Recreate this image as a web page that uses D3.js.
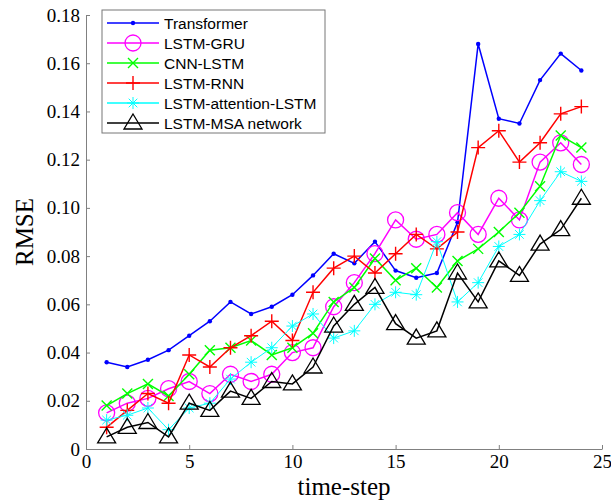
<!DOCTYPE html>
<html>
<head>
<meta charset="utf-8">
<script src="https://cdn.jsdelivr.net/npm/d3@7"></script>
<style>
  body { margin: 0; background: #fff; }
  svg { display: block; }
</style>
</head>
<body>
<div id="chart"></div>
<script>
(() => {

  let steps = d3.range(1, 25)

  let transformer = [0.036, 0.034, 0.037, 0.041, 0.047, 0.053, 0.061, 0.056, 0.059, 0.064, 0.072, 0.081,
    0.077, 0.086, 0.074, 0.071, 0.073, 0.094, 0.168, 0.137, 0.135, 0.153, 0.164, 0.157]
  let lstmGru = [0.015, 0.019, 0.021, 0.025, 0.028, 0.023, 0.031, 0.028, 0.031, 0.040, 0.042, 0.059,
    0.069, 0.081, 0.095, 0.087, 0.089, 0.098, 0.089, 0.104, 0.095, 0.119, 0.127, 0.118]
  let cnnLstm = [0.018, 0.023, 0.027, 0.022, 0.031, 0.041, 0.042, 0.045, 0.039, 0.042, 0.048, 0.061,
    0.067, 0.079, 0.070, 0.075, 0.067, 0.078, 0.083, 0.090, 0.098, 0.109, 0.130, 0.125]
  let lstmRnn = [0.009, 0.016, 0.023, 0.019, 0.039, 0.034, 0.042, 0.047, 0.053, 0.045, 0.065, 0.075,
    0.080, 0.073, 0.081, 0.089, 0.083, 0.090, 0.125, 0.132, 0.119, 0.127, 0.139, 0.142]
  let lstmAttn = [0.012, 0.014, 0.017, 0.008, 0.017, 0.019, 0.029, 0.036, 0.042, 0.051, 0.056, 0.046,
    0.049, 0.060, 0.065, 0.064, 0.086, 0.061, 0.069, 0.084, 0.089, 0.103, 0.115, 0.111]
  let lstmMsa = [0.005, 0.009, 0.011, 0.005, 0.019, 0.016, 0.024, 0.021, 0.028, 0.027, 0.034, 0.051,
    0.060, 0.067, 0.052, 0.046, 0.049, 0.073, 0.061, 0.078, 0.072, 0.085, 0.091, 0.104]

  let names = ["Transformer", "LSTM-GRU", "CNN-LSTM", "LSTM-RNN", "LSTM-attention-LSTM", "LSTM-MSA network"]
  let colors = ["#0000ff", "#ff00ff", "#00ff00", "#ff0000", "#00ffff", "#000000"]
  let markers = ["dot", "circle", "cross", "plus", "star", "triangle"]
  let values = [transformer, lstmGru, cnnLstm, lstmRnn, lstmAttn, lstmMsa]

  let xTicks = [0, 5, 10, 15, 20, 25]
  let yTicks = [0, 0.02, 0.04, 0.06, 0.08, 0.10, 0.12, 0.14, 0.16, 0.18]

  let svg = d3.select("#chart")
  .append("svg")
  .attr("width", 611)
  .attr("height", 504)

  let margin = {top: 15, right: 9, bottom: 55, left: 86}
  let width = 611 - margin.left - margin.right
  let height = 504 - margin.top - margin.bottom

  let x = d3.scaleLinear()
  .domain([0, 25])
  .range([margin.left, margin.left + width])

  let y = d3.scaleLinear()
  .domain([0, 0.18])
  .range([margin.top + height, margin.top])

  // axes
  let xAxis = svg.append("g")
  .attr("transform", "translate(0," + (margin.top + height) + ")")
  .call(d3.axisBottom(x).tickValues(xTicks).tickFormat(d3.format("d")).tickSizeInner(-4).tickSizeOuter(0).tickPadding(6))

  let yAxis = svg.append("g")
  .attr("transform", "translate(" + margin.left + ",0)")
  .call(d3.axisLeft(y).tickValues(yTicks).tickFormat(d => d === 0 ? "0" : d3.format(".2f")(d)).tickSizeInner(-4).tickSizeOuter(0).tickPadding(6))

  svg.selectAll(".domain, .tick line").attr("stroke", "#808080")
  svg.selectAll(".tick text")
  .attr("font-family", "'Liberation Serif', 'Times New Roman', serif")
  .attr("font-size", "19px")
  .attr("fill", "#000")

  // axis titles
  svg.append("text")
  .attr("x", x(12.5))
  .attr("y", 495)
  .text("time-step")
  .attr("font-family", "'Liberation Serif', 'Times New Roman', serif")
  .attr("font-size", "25px")
  .style("text-anchor", "middle")

  svg.append("text")
  .attr("transform", "translate(33," + y(0.09) + ") rotate(-90)")
  .text("RMSE")
  .attr("font-family", "'Liberation Serif', 'Times New Roman', serif")
  .attr("font-size", "25px")
  .style("text-anchor", "middle")

  // marker drawing
  let drawMarker = (sel, type, color) => {
    if (type === "dot") {
      sel.append("circle").attr("r", 2.2).attr("fill", color)
    } else if (type === "circle") {
      sel.append("circle").attr("r", 8).attr("fill", "none").attr("stroke", color).attr("stroke-width", 1.3)
    } else if (type === "cross") {
      sel.append("path").attr("d", "M-5,-5L5,5M-5,5L5,-5").attr("stroke", color).attr("stroke-width", 1.4).attr("fill", "none")
    } else if (type === "plus") {
      sel.append("path").attr("d", "M-7,0L7,0M0,-7L0,7").attr("stroke", color).attr("stroke-width", 1.4).attr("fill", "none")
    } else if (type === "star") {
      sel.append("path").attr("d", "M-6,0L6,0M0,-6L0,6M-4.3,-4.3L4.3,4.3M-4.3,4.3L4.3,-4.3").attr("stroke", color).attr("stroke-width", 1).attr("fill", "none")
    } else if (type === "triangle") {
      sel.append("path").attr("d", "M0,-9L9,6L-9,6Z").attr("stroke", color).attr("stroke-width", 1.3).attr("fill", "none")
    }
  }

  let line = d3.line()
  .x((d, i) => x(steps[i]))
  .y(d => y(d))

  values.forEach((vals, k) => {
    svg.append("path")
    .attr("d", line(vals))
    .attr("fill", "none")
    .attr("stroke", colors[k])
    .attr("stroke-width", k === 4 ? 1 : 1.5)

    let pts = svg.selectAll(".pt" + k)
    .data(vals)
    .enter()
    .append("g")
    .attr("transform", (d, i) => "translate(" + x(steps[i]) + "," + y(d) + ")")
    pts.each(function() { drawMarker(d3.select(this), markers[k], colors[k]) })
  })

  // legend
  let legend = svg.append("g")
  legend.append("rect")
  .attr("x", 102)
  .attr("y", 10)
  .attr("width", 223)
  .attr("height", 123)
  .attr("fill", "#fff")
  .attr("stroke", "#777")
  .attr("stroke-width", 1)

  names.forEach((name, k) => {
    let ly = 23 + k * 20
    legend.append("line")
    .attr("x1", 107).attr("x2", 159)
    .attr("y1", ly).attr("y2", ly)
    .attr("stroke", colors[k])
    .attr("stroke-width", 1.5)
    drawMarker(legend.append("g").attr("transform", "translate(133," + ly + ")"), markers[k], colors[k])
    legend.append("text")
    .attr("x", 164)
    .attr("y", ly + 5.5)
    .text(name)
    .attr("font-family", "'Liberation Sans', Arial, sans-serif")
    .attr("font-size", "15.5px")
    .attr("fill", "#000")
  })

})()
</script>
</body>
</html>
